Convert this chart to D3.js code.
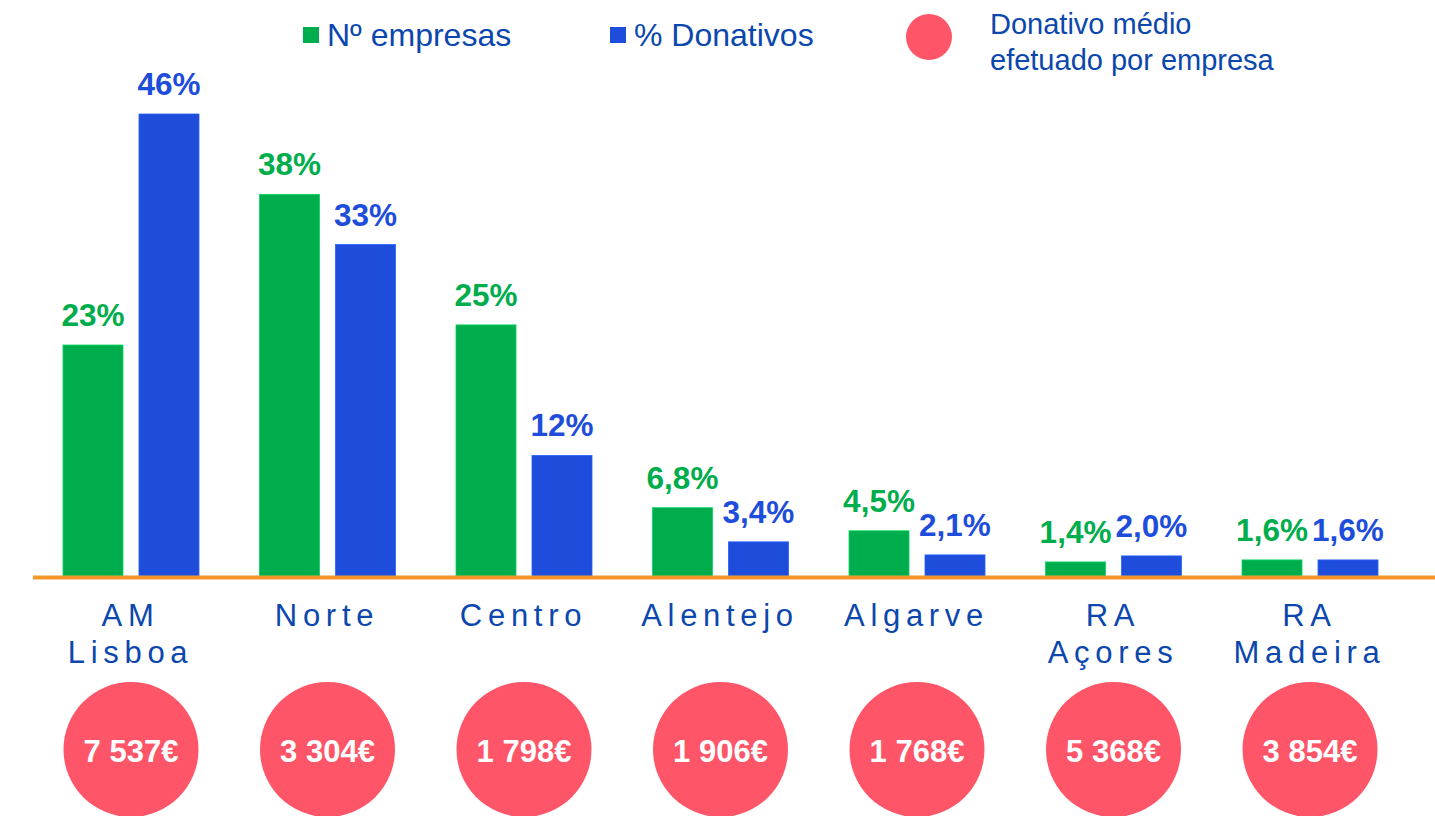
<!DOCTYPE html>
<html>
<head>
<meta charset="utf-8">
<script src="https://cdn.jsdelivr.net/npm/d3@7"></script>
<style>
  html, body { margin: 0; padding: 0; background: #ffffff; }
  svg { display: block; font-family: "Liberation Sans", Arial, sans-serif; }
</style>
</head>
<body>
<svg id="chart" width="1435" height="816"></svg>
<script>
// ---- Data ----
const categories = ["AM Lisboa", "Norte", "Centro", "Alentejo", "Algarve", "RA Açores", "RA Madeira"];
const empresas = [23, 38, 25, 6.8, 4.5, 1.4, 1.6];        // Nº empresas (%)
const donativos = [46, 33, 12, 3.4, 2.1, 2.0, 1.6];       // % Donativos
const donativoMedio = [7537, 3304, 1798, 1906, 1768, 5368, 3854]; // € por empresa
const seriesNames = ["Nº empresas", "% Donativos"];
const legendCircleText = ["Donativo médio", "efetuado por empresa"];

// ---- Styles ----
const GREEN = "#00ad4d", BLUE = "#1e4ddb", RED = "#fe5568", ORANGE = "#f5962b", TEXT = "#0b47ad";

const svg = d3.select("#chart");
const locale = d3.formatLocale({decimal: ",", thousands: " ", grouping: [3], currency: ["", "€"]});
const fmtPct = v => (v >= 10 ? locale.format(".0f")(v) : locale.format(".1f")(v)) + "%";
const fmtEur = v => locale.format(",")(v) + "€";

const baseY = 576;
const x0 = d3.scaleBand().domain(categories).range([63, 1378]).paddingInner(0.308).paddingOuter(0);
const x1 = d3.scaleBand().domain(["emp", "don"]).range([0, x0.bandwidth()]).paddingInner(0.2105).paddingOuter(0);
const y = d3.scaleLinear().domain([0, 46]).range([baseY, 114]);

const data = categories.map((c, i) => ({cat: c, vals: [
  {key: "emp", v: empresas[i], color: GREEN},
  {key: "don", v: donativos[i], color: BLUE}
]}));

// Bars
const g = svg.append("g");
const groups = g.selectAll("g.grp").data(data).join("g")
  .attr("class", "grp")
  .attr("transform", d => `translate(${x0(d.cat)},0)`);

groups.selectAll("rect").data(d => d.vals).join("rect")
  .attr("x", d => x1(d.key))
  .attr("y", d => y(d.v))
  .attr("width", x1.bandwidth())
  .attr("height", d => baseY - y(d.v))
  .attr("fill", d => d.color)
  .attr("stroke", d => d3.color(d.color).brighter(0.6))
  .attr("stroke-width", 0.8);

groups.selectAll("text.val").data(d => d.vals).join("text")
  .attr("class", "val")
  .attr("x", d => x1(d.key) + x1.bandwidth() / 2)
  .attr("y", d => y(d.v) - 19)
  .attr("text-anchor", "middle")
  .attr("font-size", 31.5)
  .attr("font-weight", "bold")
  .attr("fill", d => d.color)
  .text(d => fmtPct(d.v));

// Baseline
svg.append("line")
  .attr("x1", 33).attr("x2", 1435)
  .attr("y1", baseY + 1.5).attr("y2", baseY + 1.5)
  .attr("stroke", ORANGE).attr("stroke-width", 4);

// Category labels
const LS = 5.7;
const catLabels = svg.append("g").selectAll("text").data(categories).join("text")
  .attr("text-anchor", "middle")
  .attr("font-size", 31)
  .attr("letter-spacing", LS)
  .attr("fill", TEXT)
  .attr("transform", d => `translate(${x0(d) + x0.bandwidth() / 2 - 0.5},0)`);
catLabels.selectAll("tspan").data(d => d.split(" ")).join("tspan")
  .attr("x", 0)
  .attr("y", (d, i) => 626 + i * 37)
  .text(d => d);

// Circles
const cy = 749.5;
const circ = svg.append("g").selectAll("g").data(categories.map((c, i) => ({cat: c, v: donativoMedio[i]}))).join("g")
  .attr("transform", d => `translate(${x0(d.cat) + x0.bandwidth() / 2},${cy})`);
circ.append("circle").attr("r", 67.5).attr("fill", RED);
circ.append("text")
  .attr("y", 12)
  .attr("text-anchor", "middle")
  .attr("font-size", 31)
  .attr("font-weight", "bold")
  .attr("fill", "#ffffff")
  .text(d => fmtEur(d.v));

// Legend
const legend = svg.append("g");
const legendItems = [
  {name: seriesNames[0], color: GREEN, x: 303},
  {name: seriesNames[1], color: BLUE, x: 610}
];
legendItems.forEach(it => {
  legend.append("rect").attr("x", it.x).attr("y", 27).attr("width", 16).attr("height", 16).attr("fill", it.color);
  legend.append("text").attr("x", it.x + 24).attr("y", 46)
    .attr("font-size", 32).attr("fill", TEXT).text(it.name);
});
legend.append("circle").attr("cx", 929).attr("cy", 37).attr("r", 23).attr("fill", RED);
legend.append("text").attr("font-size", 29).attr("fill", TEXT)
  .selectAll("tspan").data(legendCircleText).join("tspan")
  .attr("x", 990).attr("y", (d, i) => 34 + i * 36).text(d => d);
</script>
</body>
</html>
